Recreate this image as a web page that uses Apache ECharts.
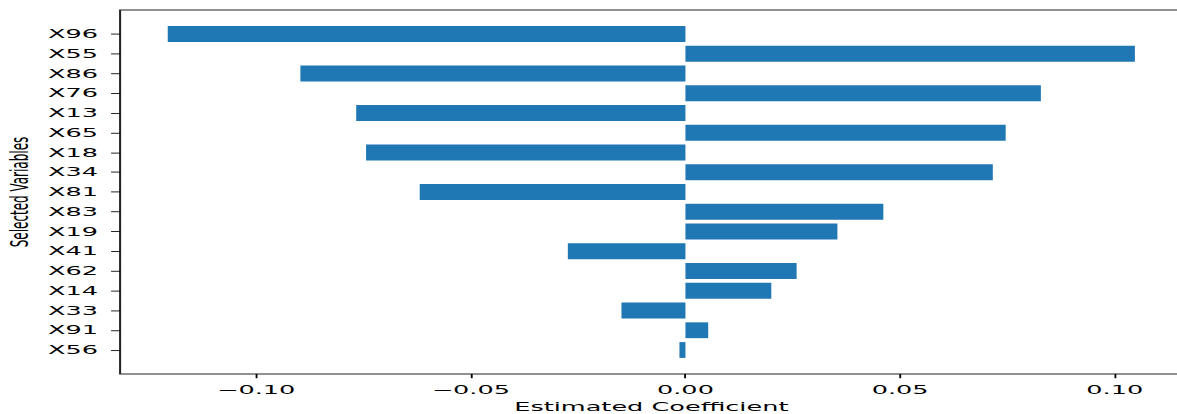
<!DOCTYPE html>
<html>
<head>
<meta charset="utf-8">
<script src="https://cdn.jsdelivr.net/npm/echarts@6/dist/echarts.min.js"></script>
<style>
  html, body { margin: 0; padding: 0; background: #fff; overflow: hidden; }
  /* the reference is a 640x480 figure stretched to 1177x414; right spine falls outside the view */
  #chart { width: 670px; height: 480px; transform: scale(1.8391, 0.8625); transform-origin: 0 0; }
</style>
</head>
<body>
<div id="chart"></div>
<script>
var variables = ['X96','X55','X86','X76','X13','X65','X18','X34','X81','X83','X19','X41','X62','X14','X33','X91','X56'];
var coefficients = [-0.1206, 0.1047, -0.0897, 0.0828, -0.0767, 0.0746, -0.0744, 0.0716, -0.0619, 0.0461, 0.0354, -0.0274, 0.0259, 0.0200, -0.0149, 0.0053, -0.0014];
var xTicks = [-0.10, -0.05, 0.00, 0.05, 0.10];

var font = 'DejaVu Sans';

var chart = echarts.init(document.getElementById('chart'), null, { renderer: 'svg' });

var option = {
    animation: false,
    grid: [
        // frame (spines)
        { left: 65.3, top: 11.6, width: 577.7, height: 422, outerBoundsMode: 'none', show: true, borderColor: '#222', borderWidth: 1.1, backgroundColor: 'transparent' },
        // data area, category centres match matplotlib margins
        { left: 65.3, top: 27.95, width: 577.7, height: 389.3, outerBoundsMode: 'none' }
    ],
    xAxis: [
        { gridIndex: 0, type: 'value', show: false },
        {
            gridIndex: 1,
            type: 'value',
            min: -0.1317,
            max: 0.1158,
            offset: 16.35,
            splitLine: { show: false },
            axisLine: { show: false, onZero: false },
            axisTick: { show: true, length: 4.9, customValues: xTicks, lineStyle: { color: '#000' } },
            axisLabel: {
                customValues: xTicks,
                margin: 11,
                fontFamily: font,
                fontSize: 13.9,
                color: '#000',
                formatter: function (v) {
                    return (v < 0 ? '\u2212' : '') + Math.abs(v).toFixed(2);
                }
            },
            name: 'Estimated Coefficient',
            nameLocation: 'middle',
            nameGap: 30.5,
            nameMoveOverlap: false,
            nameTextStyle: { fontFamily: font, fontSize: 13.9, color: '#000' }
        }
    ],
    yAxis: [
        { gridIndex: 0, type: 'value', show: false },
        {
            gridIndex: 1,
            type: 'category',
            data: variables,
            inverse: true,
            axisLine: { show: false, onZero: false },
            axisTick: { show: true, length: 4.9, alignWithLabel: true, interval: 0, lineStyle: { color: '#000' } },
            axisLabel: { interval: 0, margin: 12, fontFamily: font, fontSize: 13.9, color: '#000' },
            name: 'Selected Variables',
            nameLocation: 'middle',
            nameRotate: 90,
            nameGap: 48,
            nameMoveOverlap: false,
            nameTextStyle: { fontFamily: font, fontSize: 13.9, color: '#000' }
        }
    ],
    series: [{
        type: 'bar',
        xAxisIndex: 1,
        yAxisIndex: 1,
        data: coefficients,
        barWidth: '80%',
        itemStyle: { color: '#1f77b4' }
    }]
};
chart.setOption(option);
</script>
</body>
</html>
